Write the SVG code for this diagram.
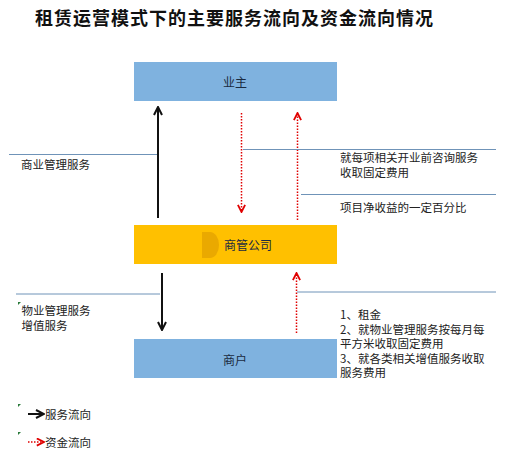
<svg xmlns="http://www.w3.org/2000/svg" width="506" height="451" viewBox="0 0 506 451">
<defs>
<style>
.t{font-family:"Noto Sans CJK SC","Liberation Sans",sans-serif;font-size:11.5px;fill:#222}
.title{font-family:"Noto Sans CJK SC","Liberation Sans",sans-serif;font-size:18px;font-weight:bold;fill:#111;letter-spacing:1px}
.lab{font-family:"Noto Sans CJK SC","Liberation Sans",sans-serif;font-size:12px;fill:#1a2a40;text-anchor:middle}
.ln{stroke:#6f93b8;stroke-width:1;fill:none}
.blk{stroke:#111;stroke-width:2;fill:none}
.red{stroke:#e00000;stroke-width:1.5;fill:none;stroke-dasharray:1.5 1.5}
.mk{fill:#2a7a3a}
</style>
<marker id="ab" viewBox="0 0 10 10" refX="9" refY="5" markerWidth="5" markerHeight="5" orient="auto" markerUnits="strokeWidth">
<path d="M1,1 L9,5 L1,9" fill="none" stroke="#111" stroke-width="2"/>
</marker>
<marker id="ar" viewBox="0 0 10 10" refX="9" refY="5" markerWidth="6" markerHeight="6" orient="auto" markerUnits="strokeWidth">
<path d="M1,1 L9,5 L1,9" fill="none" stroke="#e00000" stroke-width="2"/>
</marker>
</defs>
<rect width="506" height="451" fill="#fff"/>
<text class="title" x="35" y="25">租赁运营模式下的主要服务流向及资金流向情况</text>

<g id="owner">
<rect x="134" y="62" width="203" height="39" fill="#7fb2df"/>
<text class="lab" x="235" y="87">业主</text>
</g>
<g id="company">
<rect x="134" y="225" width="203" height="39" fill="#ffc000"/>
<path d="M202,232 L210,232 A9,13 0 0 1 210,258 L202,258 Z" fill="#e6a400" opacity="0.85"/>
<text class="lab" x="248" y="250">商管公司</text>
</g>
<g id="tenant">
<rect x="134" y="339" width="203" height="39" fill="#7fb2df"/>
<text class="lab" x="235" y="365">商户</text>
</g>

<g id="connectors">
<line class="blk" x1="158" y1="218" x2="158" y2="107" marker-end="url(#ab)"/>
<line class="red" x1="241.5" y1="113" x2="241.5" y2="212" marker-end="url(#ar)"/>
<line class="red" x1="297.5" y1="220" x2="297.5" y2="113" marker-end="url(#ar)"/>
<line class="blk" x1="162" y1="273" x2="162" y2="330" marker-end="url(#ab)"/>
<line class="red" x1="296.5" y1="333" x2="296.5" y2="273" marker-end="url(#ar)"/>
<line class="ln" x1="9" y1="154.5" x2="157" y2="154.5"/>
<line class="ln" x1="243" y1="149.5" x2="496" y2="149.5"/>
<line class="ln" x1="301" y1="194.5" x2="496" y2="194.5"/>
<line class="ln" x1="16" y1="294" x2="160" y2="294" stroke="#9db5cc"/>
<line class="ln" x1="297" y1="292" x2="496" y2="292"/>
</g>

<g id="labels">
<text class="t" x="21" y="169">商业管理服务</text>
<text class="t" x="340" y="162">就每项相关开业前咨询服务</text>
<text class="t" x="340" y="176.5">收取固定费用</text>
<text class="t" x="340" y="212">项目净收益的一定百分比</text>
<path class="mk" d="M18,302 L21,302 L18,305 Z"/>
<text class="t" x="21.5" y="315">物业管理服务</text>
<text class="t" x="21.5" y="329.5">增值服务</text>
<text class="t" x="340" y="319">1、租金</text>
<text class="t" x="340" y="333.5">2、就物业管理服务按每月每</text>
<text class="t" x="340" y="348">平方米收取固定费用</text>
<text class="t" x="340" y="362.5">3、就各类相关增值服务收取</text>
<text class="t" x="340" y="377">服务费用</text>
</g>

<g id="legend">
<path class="mk" d="M18,404 L21,404 L18,407 Z"/>
<line class="blk" x1="28" y1="414" x2="44" y2="414" marker-end="url(#ab)"/>
<text class="t" x="45" y="419">服务流向</text>
<path class="mk" d="M18,432 L21,432 L18,435 Z"/>
<line class="red" x1="28" y1="442" x2="44" y2="442" marker-end="url(#ar)"/>
<text class="t" x="45" y="447">资金流向</text>
</g>
</svg>
